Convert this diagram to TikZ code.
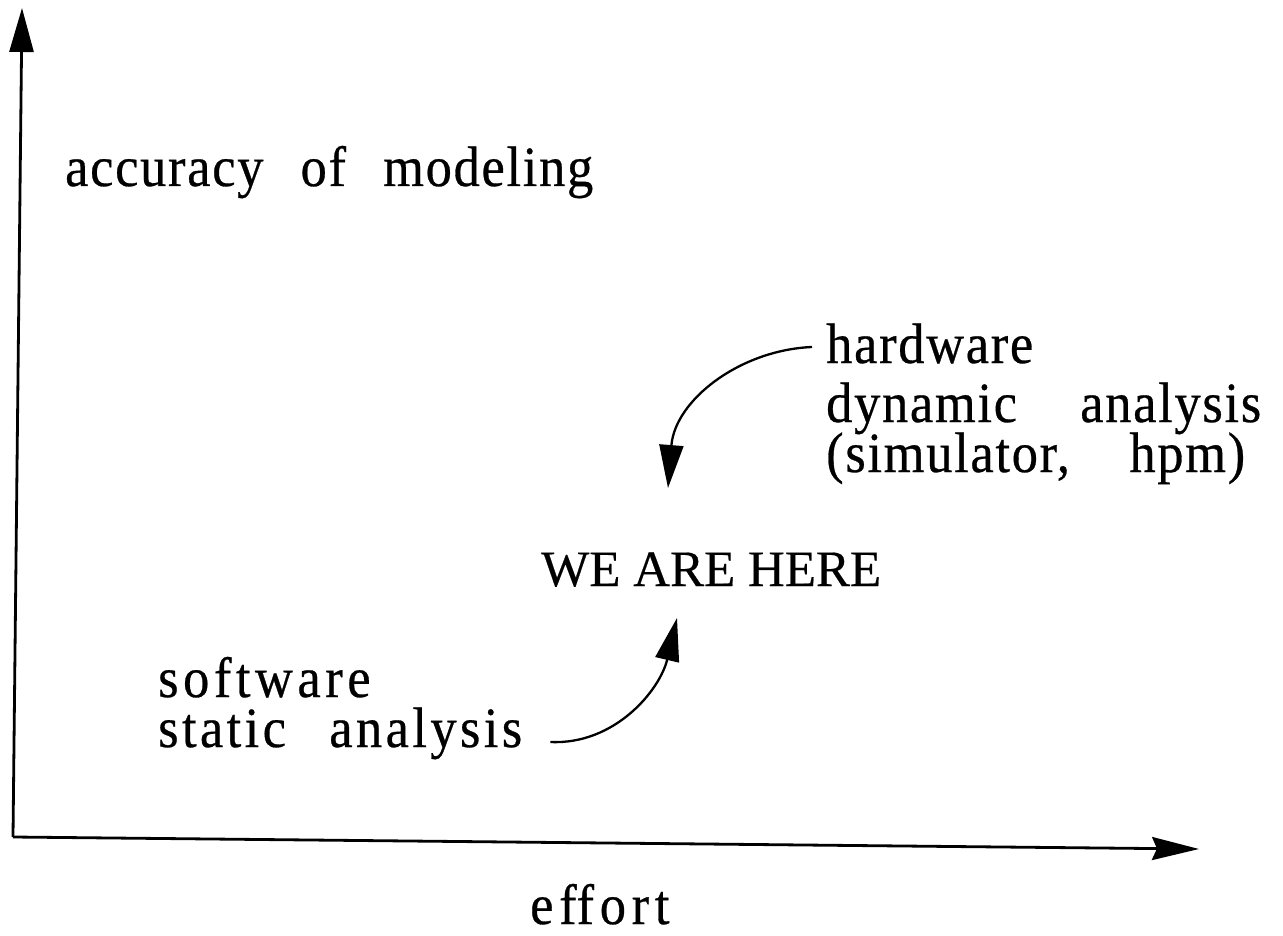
\documentclass[tikz,border=0pt]{standalone}
\usepackage{fontspec}
\setmainfont{Liberation Serif}
\newfontfamily\scanfont[FakeStretch=0.92,FakeBold=0.5]{Liberation Serif}
\usetikzlibrary{arrows.meta}

\tikzset{
  lbl/.style={anchor=base west, inner sep=0pt,
    font=\scanfont\fontsize{57}{60}\selectfont},
  spaced/.style={font=\scanfont\fontsize{57}{60}\selectfont\addfontfeatures{LetterSpace=#1}},
  axisline/.style={line width=2.8pt, line join=miter},
  pointer/.style={line width=2.3pt, -{Triangle[length=43pt,width=24pt]}},
}
% a line of words spread over a fixed width
\newcommand\spreadline[2]{\makebox[#1][s]{#2}}

\begin{document}
\begin{tikzpicture}[x=1pt,y=-1pt]
\useasboundingbox (0,0) rectangle (1283,936);

% axes
\coordinate (O) at (13,837);
\coordinate (ytip) at (22,8);
\coordinate (xtip) at (1199,849);
\draw[axisline, -{Triangle[length=44pt,width=24pt]}] (O) -- (ytip);
\draw[axisline, -{Stealth[length=47pt,width=23pt,inset=5pt]}] (O) -- (xtip);

% labels
\node[lbl, spaced=3] (acc) at (65,186) {\spreadline{528pt}{accuracy\hfill of\hfill modeling}};
\node[lbl, spaced=3] (hw1) at (826,363) {hardware};
\node[lbl, spaced=3] (hw2) at (826,422) {\spreadline{435pt}{dynamic\hfill analysis}};
\node[lbl, spaced=3] (hw3) at (826,472) {\spreadline{419pt}{(simulator,\hfill hpm)}};
\node[lbl, font=\fontsize{51}{55}\selectfont\addfontfeatures{FakeBold=0.4}] (here) at (541,586) {WE ARE HERE};
\node[lbl, spaced=8] (sw1) at (158,697) {software};
\node[lbl, spaced=6] (sw2) at (158,747) {\spreadline{364pt}{static\hfill analysis}};
\node[lbl, spaced=10] (eff) at (530,924) {ef\kern0ptfort};

% curved pointers
\coordinate (hwstart) at ([xshift=-14pt,yshift=16pt]hw1.base west);
\coordinate (hwend) at (668,488);
\draw[pointer] (hwstart) .. controls (740,350) and (675,400) .. (hwend);

\coordinate (swstart) at ([xshift=28pt,yshift=5pt]sw2.base east);
\coordinate (swend) at (677,618);
\draw[pointer] (swstart) .. controls (615,745) and (660,690) .. (swend);
\end{tikzpicture}
\end{document}
